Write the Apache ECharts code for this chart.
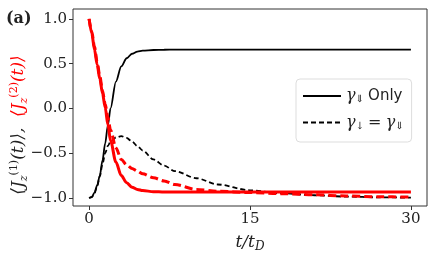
<!DOCTYPE html>
<html><head><meta charset="utf-8">
<script src="https://cdn.jsdelivr.net/npm/echarts@6/dist/echarts.min.js"></script>
<style>html,body{margin:0;padding:0;background:#fff}#c{width:436px;height:257px}</style>
</head><body><div id="c"></div>
<script>
// time axis (t / t_D)
var tVals = [0,0.25,0.5,0.75,1,1.25,1.5,1.75,2,2.5,3,3.5,4,4.5,5,6,7,8,10,12,15,18,21,24,27,30];
// <J_z^(1)(t)>, gamma_⇓ only (black solid)
var j1Only = [-1.0,-0.99,-0.94,-0.86,-0.75,-0.58,-0.39,-0.19,0.0,0.30,0.47,0.56,0.61,0.635,0.645,0.652,0.655,0.656,0.656,0.656,0.656,0.656,0.656,0.656,0.656,0.656];
// <J_z^(2)(t)>, gamma_⇓ only (red solid)
var j2Only = [1.0,0.84,0.66,0.49,0.33,0.17,0.01,-0.18,-0.36,-0.60,-0.75,-0.83,-0.88,-0.905,-0.918,-0.93,-0.934,-0.935,-0.935,-0.935,-0.935,-0.935,-0.935,-0.935,-0.935,-0.935];
// <J_z^(1)(t)>, gamma_↓ = gamma_⇓ (black dashed)
var j1Eq = [-1.0,-0.99,-0.95,-0.87,-0.76,-0.62,-0.50,-0.42,-0.37,-0.325,-0.31,-0.33,-0.37,-0.42,-0.47,-0.57,-0.64,-0.70,-0.78,-0.85,-0.915,-0.948,-0.97,-0.985,-0.993,-0.997];
// <J_z^(2)(t)>, gamma_↓ = gamma_⇓ (red dashed)
var j2Eq = [1.0,0.86,0.69,0.52,0.36,0.20,0.05,-0.10,-0.24,-0.44,-0.57,-0.63,-0.67,-0.70,-0.73,-0.775,-0.81,-0.85,-0.905,-0.925,-0.94,-0.952,-0.965,-0.978,-0.987,-0.99];
var xTicks = [0,15,30];
var yTicks = [-1.0,-0.5,0.0,0.5,1.0];
var legendNames = ['γ⇓ Only','γ↓ = γ⇓'];

function pairs(v){ return tVals.map(function(t,i){ return [t, v[i]]; }); }
var serif = 'DejaVu Serif';
var chart = echarts.init(document.getElementById('c'));
chart.setOption({
  animation:false,
  grid:{left:73,right:9,top:9,bottom:51,outerBoundsMode:'none',containLabel:false,
    show:true,borderColor:'#333',borderWidth:1,backgroundColor:'transparent'},
  xAxis:{type:'value',min:-1.5,max:31.5,
    axisLine:{show:false,onZero:false},splitLine:{show:false},
    axisTick:{show:true,length:4,lineStyle:{color:'#333'},customValues:xTicks},
    axisLabel:{customValues:xTicks,fontFamily:serif,fontSize:15,color:'#222',margin:6},
    name:'{i|t/t}{s|D}',nameLocation:'middle',nameGap:27,
    nameTextStyle:{rich:{i:{fontFamily:serif,fontStyle:'italic',fontSize:17,color:'#222'},s:{fontFamily:serif,fontStyle:'italic',fontSize:12,color:'#222',padding:[8,0,0,0]}}}
  },
  yAxis:{type:'value',min:-1.09,max:1.11,
    axisLine:{show:false,onZero:false},splitLine:{show:false},
    axisTick:{show:true,length:4,lineStyle:{color:'#333'},customValues:yTicks},
    axisLabel:{customValues:yTicks,fontFamily:serif,fontSize:15,color:'#222',margin:6,
      formatter:function(v){ return (v<0?'\u2212':'')+Math.abs(v).toFixed(1); }}
  },
  legend:{orient:'vertical',left:296,top:79,data:legendNames,
    padding:[9,8,11,6],itemGap:10,itemWidth:38,itemHeight:14,
    itemStyle:{color:'rgba(0,0,0,0)',borderColor:'rgba(0,0,0,0)',borderWidth:0,opacity:0},
    borderColor:'#ddd',borderWidth:1,borderRadius:4,backgroundColor:'#fff',
    formatter:function(n){ return n===legendNames[0]?'{g|γ}{s|⇓} {o|Only}':'{g|γ}{s|↓} {g|=} {g|γ}{s|⇓}'; },
    textStyle:{fontSize:15,color:'#222',rich:{g:{fontFamily:serif,fontStyle:'italic',fontSize:16,color:'#222'},
      s:{fontFamily:serif,fontSize:10,color:'#222',padding:[7,0,0,0]},
      o:{fontFamily:'DejaVu Sans',fontSize:15,color:'#222'}}}
  },
  graphic:[
    {type:'text',left:6,top:11,style:{text:'(a)',font:'bold 16px "DejaVu Serif"',fill:'#222'}},
    {type:'text',x:19,y:125,rotation:Math.PI/2,
      style:{text:'{b|⟨J}{bs|z}{bp|(1)}{b|(t)⟩,  }{r|⟨J}{rs|z}{rp|(2)}{r|(t)⟩}',align:'center',verticalAlign:'middle',
      rich:{
      b:{fontFamily:serif,fontStyle:'italic',fontSize:17,fill:'#222'},
      bs:{fontFamily:serif,fontStyle:'italic',fontSize:11,fill:'#222',padding:[10,0,0,0]},
      bp:{fontFamily:serif,fontSize:11,fill:'#222',padding:[0,0,10,0]},
      r:{fontFamily:serif,fontStyle:'italic',fontSize:17,fill:'#ff0000'},
      rs:{fontFamily:serif,fontStyle:'italic',fontSize:11,fill:'#ff0000',padding:[10,0,0,0]},
      rp:{fontFamily:serif,fontSize:11,fill:'#ff0000',padding:[0,0,10,0]}
    }}}
  ],
  series:[
    {name:legendNames[0],type:'line',data:pairs(j1Only),symbol:'none',smooth:0.3,smoothMonotone:'x',
      lineStyle:{color:'#000',width:1.8},itemStyle:{color:'#000'},z:2},
    {name:legendNames[1],type:'line',data:pairs(j1Eq),symbol:'none',smooth:0.3,smoothMonotone:'x',
      lineStyle:{color:'#000',width:1.8,type:[5,3]},itemStyle:{color:'#000'},z:2},
    {name:'J2 only',type:'line',data:pairs(j2Only),symbol:'none',smooth:0.3,smoothMonotone:'x',
      lineStyle:{color:'#ff0000',width:3},itemStyle:{color:'#ff0000'},z:3},
    {name:'J2 eq',type:'line',data:pairs(j2Eq),symbol:'none',smooth:0.3,smoothMonotone:'x',
      lineStyle:{color:'#ff0000',width:3,type:[8,4]},itemStyle:{color:'#ff0000'},z:3}
  ]
});
</script></body></html>
